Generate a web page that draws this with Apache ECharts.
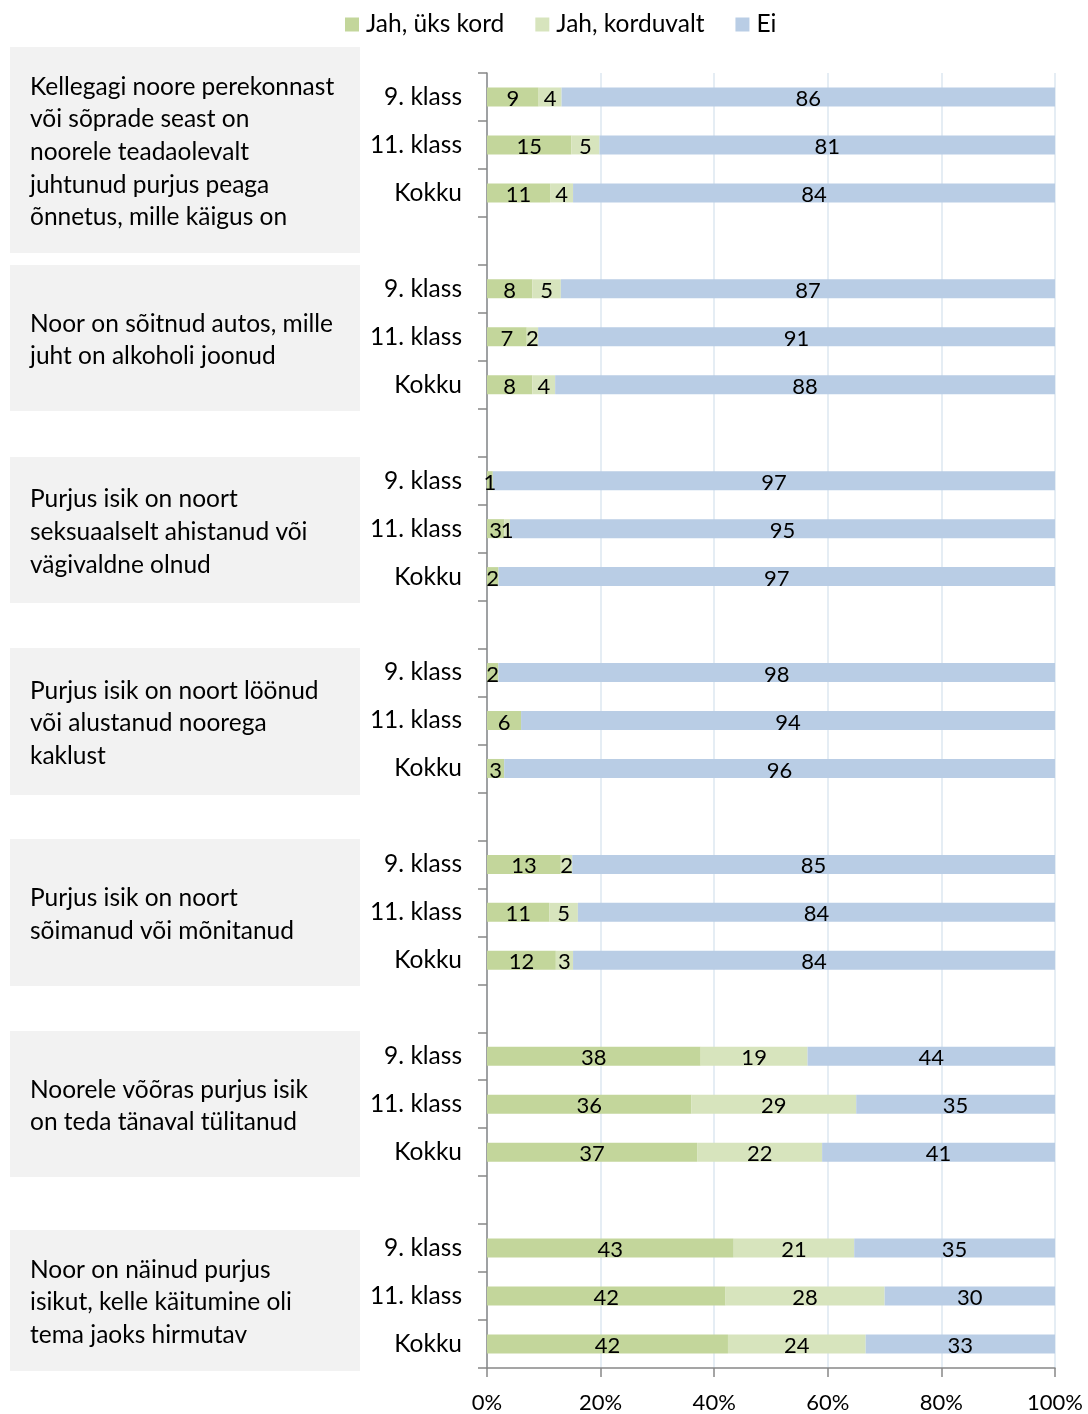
<!DOCTYPE html>
<html><head><meta charset="utf-8">
<script src="https://cdn.jsdelivr.net/npm/echarts@6/dist/echarts.min.js"></script>
<style>html,body{margin:0;padding:0;background:#fff}#c{width:1088px;height:1414px}</style>
</head><body><div id="c"></div>
<script>
const groupTexts = [
  "Kellegagi noore perekonnast\nvõi sõprade seast on\nnoorele teadaolevalt\njuhtunud purjus peaga\nõnnetus, mille käigus on",
  "Noor on sõitnud autos, mille\njuht on alkoholi joonud",
  "Purjus isik on noort\nseksuaalselt ahistanud või\nvägivaldne olnud",
  "Purjus isik on noort löönud\nvõi alustanud noorega\nkaklust",
  "Purjus isik on noort\nsõimanud või mõnitanud",
  "Noorele võõras purjus isik\non teda tänaval tülitanud",
  "Noor on näinud purjus\nisikut, kelle käitumine oli\ntema jaoks hirmutav"
];
const rowLabels = ["9. klass", "11. klass", "Kokku"];
const seriesNames = ["Jah, üks kord", "Jah, korduvalt", "Ei"];
const once   = [[9,15,11],[8,7,8],[1,3,2],[2,6,3],[13,11,12],[38,36,37],[43,42,42]];
const repeat = [[4,5,4],[5,2,4],[0,1,0],[0,0,0],[2,5,3],[19,29,22],[21,28,24]];
const no     = [[86,81,84],[87,91,88],[97,95,97],[98,94,96],[85,84,84],[44,35,41],[35,30,33]];
const xTicks = [0,20,40,60,80,100];

// Build category slots: 3 rows per group, blank slot between groups
const cats = [], raw = [[],[],[]];
groupTexts.forEach((g, gi) => {
  for (let r = 0; r < 3; r++) {
    cats.push(rowLabels[r]);
    raw[0].push(once[gi][r]); raw[1].push(repeat[gi][r]); raw[2].push(no[gi][r]);
  }
  if (gi < groupTexts.length - 1) { cats.push(""); raw[0].push(null); raw[1].push(null); raw[2].push(null); }
});
// 100% stacked: normalise by row total
const pct = raw.map(s => s.map((v, i) => {
  if (v === null) return null;
  const t = raw[0][i] + raw[1][i] + raw[2][i];
  return v / t * 100;
}));

const colors = ["#c3d69b", "#d7e4bd", "#b9cde5"];
const FONT = "Lato";
const chart = echarts.init(document.getElementById('c'));

const boxes = [[47,253],[265,411],[457,603],[648,795],[839,986],[1031,1177],[1230,1371]];
const graphics = [];
boxes.forEach((b, i) => {
  const n = groupTexts[i].split("\n").length;
  graphics.push({type:'rect', left:10, top:b[0], shape:{width:350, height:b[1]-b[0]}, style:{fill:'#f2f2f2'}, z:0});
  graphics.push({type:'text', left:30, top:(b[0]+b[1])/2 - n*32.7/2 + 2,
    style:{text:groupTexts[i], font:'24.5px '+FONT, fill:'#000', lineHeight:32.7}, z:1});
});

chart.setOption({
  animation:false,
  textStyle:{fontFamily:FONT},
  legend:{top:7, left:340, itemWidth:14, itemHeight:14, itemGap:31, icon:'rect',
    textStyle:{fontSize:24.5, color:'#000', fontFamily:FONT, padding:[0,0,0,2]}, data:seriesNames},
  grid:{left:487, right:33, top:73, bottom:46, containLabel:false},
  xAxis:{type:'value', min:0, max:100, interval:20,
    axisLine:{show:true, lineStyle:{color:'#888', width:1.5}},
    axisTick:{show:true, length:9, lineStyle:{color:'#888', width:1.5}},
    axisLabel:{formatter:v => xTicks.includes(v) ? v + '%' : '', fontSize:22, color:'#000', margin:24, fontFamily:FONT},
    splitLine:{show:true, lineStyle:{color:'#dde7f1', width:1.5}}},
  yAxis:{type:'category', inverse:true, data:cats,
    axisLine:{show:true, lineStyle:{color:'#888', width:1.5}},
    axisTick:{show:true, length:9, interval:0, lineStyle:{color:'#888', width:1.5}},
    axisLabel:{fontSize:24.5, color:'#000', margin:25, interval:0, fontFamily:FONT}},
  graphic:graphics,
  series: seriesNames.map((n, si) => ({
    name:n, type:'bar', stack:'all', barWidth:19, data:pct[si],
    itemStyle:{color:colors[si]},
    label:{show:true, position:'inside', fontSize:22, color:'#000', fontFamily:FONT, offset:[0,2],
      formatter:p => { const v = raw[si][p.dataIndex]; return (v === null || v === 0) ? '' : String(v); }}
  }))
});
</script></body></html>
